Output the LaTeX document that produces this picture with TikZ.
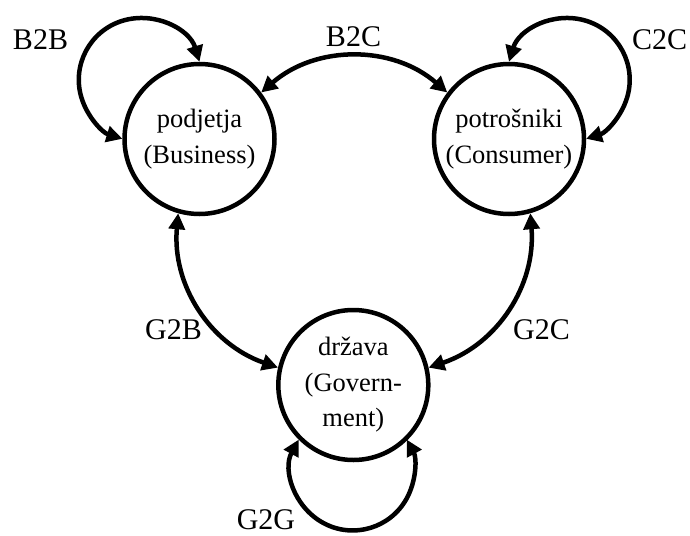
\documentclass[tikz,border=0pt]{standalone}
\usepackage{fontspec}
\setmainfont{Liberation Serif}
\usetikzlibrary{arrows.meta}
\begin{document}
\begin{tikzpicture}[x=1pt,y=1pt,
  party/.style={circle, draw, line width=4.5pt, minimum size=150pt, inner sep=0pt,
    align=center, font=\fontsize{26.5}{35.5}\selectfont},
  tip/.tip={Triangle[length=16pt,width=16pt]},
  flow/.style={line width=4.5pt, tip-tip},
  tag/.style={anchor=base, inner sep=0pt, font=\fontsize{30}{36}\selectfont}]
\useasboundingbox (0,0) rectangle (690,-535);

% the three parties
\node[party] (B) at (199.5,-139) {podjetja\\(Business)};
\node[party] (C) at (509,-139) {potrošniki\\(Consumer)};
\node[party] (G) at (353.3,-385) {država\\(Govern-\\ment)};

% exchanges between parties
\draw[flow] (B.37) to[bend left=41] (C.143);
\draw[flow] (B.254) to[bend right=38] (G.167);
\draw[flow] (C.286) to[bend left=38] (G.13);

% exchanges within a party
\draw[flow] (B.north) arc[start angle=17, end angle=253, radius=61.7];
\draw[flow] (C.north) arc[start angle=163, end angle=-73, radius=61.7];
\draw[flow] (G.225) arc[start angle=151.5, end angle=388.5, radius=61.5];

% labels
\node[tag] (lbb) at (40.5,-50) {B2B};
\node[tag] (lbc) at (353.5,-47) {B2C};
\node[tag] (lcc) at (659.5,-49.5) {C2C};
\node[tag] (lgb) at (173.5,-339.5) {G2B};
\node[tag] (lgc) at (541.5,-339.5) {G2C};
\node[tag] (lgg) at (266,-529) {G2G};
\end{tikzpicture}
\end{document}
